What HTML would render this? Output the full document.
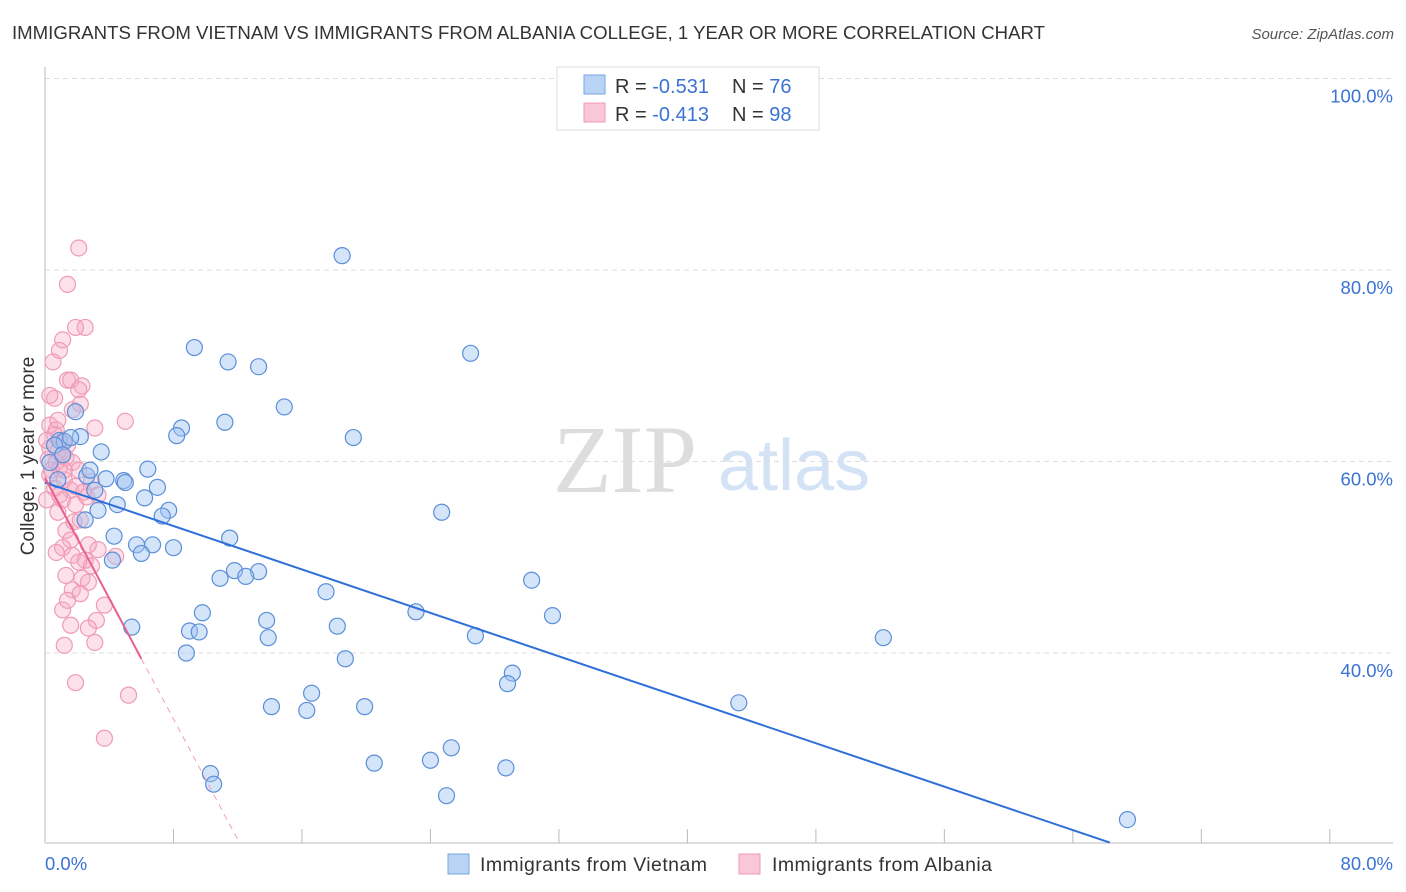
<!DOCTYPE html>
<html><head><meta charset="utf-8"><style>
body{margin:0;background:#fff;font-family:"Liberation Sans",sans-serif;}
svg{display:block}
</style></head><body>
<svg id="chart" width="1406" height="892">
<text x="12" y="39" font-size="18" textLength="1033" lengthAdjust="spacingAndGlyphs" fill="#333">IMMIGRANTS FROM VIETNAM VS IMMIGRANTS FROM ALBANIA COLLEGE, 1 YEAR OR MORE CORRELATION CHART</text>
<text x="1394" y="39" font-size="15" fill="#555" font-style="italic" text-anchor="end">Source: ZipAtlas.com</text>
<text transform="translate(34,456) rotate(-90)" font-size="19" fill="#333" text-anchor="middle">College, 1 year or more</text>
<g><text x="553" y="492" font-size="96" fill="#ddd" font-family="Liberation Serif,serif">ZIP</text><text x="718" y="490" font-size="72" fill="#d3e2f5">atlas</text></g>
<g id="grid"></g><g id="marks"></g>
<g>
<rect x="557" y="67" width="262" height="63" fill="#fff" stroke="#ddd"/>
<rect x="584" y="75" width="21" height="19" fill="#b9d3f5" stroke="#7aa5e3"/>
<rect x="584" y="103" width="21" height="19" fill="#fac7d7" stroke="#ef9ab7"/>
<text x="615" y="93" font-size="20" fill="#333">R = <tspan fill="#3a73d3">-0.531</tspan><tspan x="732">N = </tspan><tspan fill="#3a73d3">76</tspan></text>
<text x="615" y="121" font-size="20" fill="#333">R = <tspan fill="#3a73d3">-0.413</tspan><tspan x="732">N = </tspan><tspan fill="#3a73d3">98</tspan></text>
</g>
<g>
<rect x="448" y="854" width="21" height="20" fill="#b9d3f5" stroke="#7aa5e3"/>
<text x="480" y="871" font-size="19.5" textLength="227" fill="#333">Immigrants from Vietnam</text>
<rect x="739" y="854" width="21" height="20" fill="#fac7d7" stroke="#ef9ab7"/>
<text x="772" y="871" font-size="19.5" textLength="220" fill="#333">Immigrants from Albania</text>
</g>
</svg>
<script>
const yTicks=[40,60,80,100];
const yTickLabels=["40.0%","60.0%","80.0%","100.0%"];
const blueX=[18.5,9.3,11.4,13.3,26.5,14.9,11.2,8.5,8.2,19.2,1.9,2.2,3.5,6.4,2.6,3.8,4.9,5.0,7.0,6.2,4.5,3.3,7.7,7.3,24.7,4.3,11.5,5.7,6.7,8.0,6.0,4.2,11.8,13.3,12.5,10.9,30.3,17.5,23.1,31.6,9.8,13.8,9.0,9.6,18.2,26.8,52.2,5.4,13.9,8.8,18.7,29.1,28.8,16.6,14.1,16.3,19.9,43.2,25.3,24.0,20.5,28.7,10.3,10.5,25.0,67.4,0.9,1.2,0.6,1.6,2.8,3.1,0.8,0.3,1.1,2.5];
const blueY=[81.5,71.9,70.4,69.9,71.3,65.7,64.1,63.5,62.7,62.5,65.2,62.6,61.0,59.2,58.5,58.2,58.0,57.8,57.3,56.2,55.5,54.9,54.9,54.3,54.7,52.2,52.0,51.3,51.3,51.0,50.4,49.7,48.6,48.5,48.0,47.8,47.6,46.4,44.3,43.9,44.2,43.4,42.3,42.2,42.8,41.8,41.6,42.7,41.6,40.0,39.4,37.9,36.8,35.8,34.4,34.0,34.4,34.8,30.1,28.8,28.5,28.0,27.4,26.3,25.1,22.6,62.2,62.1,61.7,62.5,59.1,57.0,58.1,59.9,60.7,53.9];
const pinkX=[2.1,1.4,2.5,1.9,1.1,0.9,0.5,1.4,1.6,2.3,2.1,0.6,2.2,1.7,5.0,3.1,0.3,0.7,1.1,1.4,0.3,0.8,1.3,1.7,0.9,2.1,0.3,1.2,2.9,0.6,1.6,2.4,3.3,1.1,1.9,0.8,2.2,1.3,1.6,1.1,3.3,0.7,1.7,2.5,2.1,2.9,1.3,2.3,2.7,1.7,2.2,3.7,1.1,3.2,1.6,2.7,3.1,1.2,1.9,5.2,3.7,4.4,0.2,0.4,0.1,0.6,0.1,0.9,1.8,1.4,2.7,0.8,0.3,1.2,1.9,0.7,1.1,2.6];
const pinkY=[82.3,78.5,74.0,74.0,72.7,71.6,70.4,68.5,68.5,67.9,67.5,66.6,66.0,65.4,64.2,63.5,63.8,63.3,62.2,61.7,61.4,61.0,60.4,59.9,59.3,59.1,58.6,58.1,57.9,57.2,57.0,56.8,56.5,56.0,55.5,54.7,53.9,52.8,51.8,51.0,50.8,50.5,50.2,49.7,49.5,49.1,48.1,47.8,47.4,46.6,46.2,45.0,44.5,43.4,42.9,42.6,41.1,40.8,36.9,35.6,31.1,50.1,60.2,59.1,62.2,62.8,56.0,56.5,53.7,45.5,51.3,64.3,66.9,59.1,57.4,59.9,60.7,56.3];
const blueTrend=[[0,57.8],[66.3,20.2]];
const pinkTrendSolid=[[0,58.3],[6.0,39.4]];
const pinkTrendDash=[[6.0,39.4],[12.1,20.2]];
const X=v=>45+v*16.06, Y=v=>653-(v-40)*9.575;
const NS="http://www.w3.org/2000/svg";
const grid=document.getElementById('grid'), marks=document.getElementById('marks');
function mk(tag,attrs,parent){const e=document.createElementNS(NS,tag);for(const k in attrs)e.setAttribute(k,attrs[k]);parent.appendChild(e);return e;}
yTicks.forEach((t,i)=>{
  const l=mk('line',{x1:45,x2:1393,y1:Y(t),y2:Y(t),stroke:'#ddd','stroke-dasharray':'5,4'},grid);
  
  
  const tx=mk('text',{x:1393,y:Y(t)+24,'font-size':18.5,fill:'#3a73d3','text-anchor':'end'},grid);
  tx.textContent=yTickLabels[i];
  
  
});
const ax=mk('line',{x1:45,x2:45,y1:67,y2:843,stroke:'#bbb'},grid);


const bx=mk('line',{x1:45,x2:1393,y1:843,y2:843,stroke:'#bbb'},grid);


for(let i=0;i<=10;i++){const t=mk('line',{x1:X(i*8),x2:X(i*8),y1:829,y2:843,stroke:'#bbb'},grid);
  
  }
const xl0=mk('text',{x:45,y:870,'font-size':18.5,fill:'#3a73d3'},grid);xl0.textContent='0.0%';


const xl1=mk('text',{x:1393,y:870,'font-size':18.5,fill:'#3a73d3','text-anchor':'end'},grid);xl1.textContent='80.0%';


pinkX.forEach((v,i)=>{const c=mk('circle',{cx:X(v),cy:Y(pinkY[i]),r:8,fill:'rgba(246,170,196,0.35)',stroke:'#ef9ab7','stroke-width':1.2},marks);
  
  });
blueX.forEach((v,i)=>{const c=mk('circle',{cx:X(v),cy:Y(blueY[i]),r:8,fill:'rgba(160,195,242,0.45)',stroke:'#5b8fd8','stroke-width':1.2},marks);
  
  });
const bl=mk('line',{x1:X(blueTrend[0][0]),y1:Y(blueTrend[0][1]),x2:X(blueTrend[1][0]),y2:Y(blueTrend[1][1]),stroke:'#2f6fd8','stroke-width':2},marks);


const pl=mk('line',{x1:X(pinkTrendSolid[0][0]),y1:Y(pinkTrendSolid[0][1]),x2:X(pinkTrendSolid[1][0]),y2:Y(pinkTrendSolid[1][1]),stroke:'#e8608e','stroke-width':2},marks);


const pd=mk('line',{x1:X(pinkTrendDash[0][0]),y1:Y(pinkTrendDash[0][1]),x2:X(pinkTrendDash[1][0]),y2:Y(pinkTrendDash[1][1]),stroke:'#f0a0bc','stroke-width':1,'stroke-dasharray':'6,5'},marks);


</script>
</body></html>
